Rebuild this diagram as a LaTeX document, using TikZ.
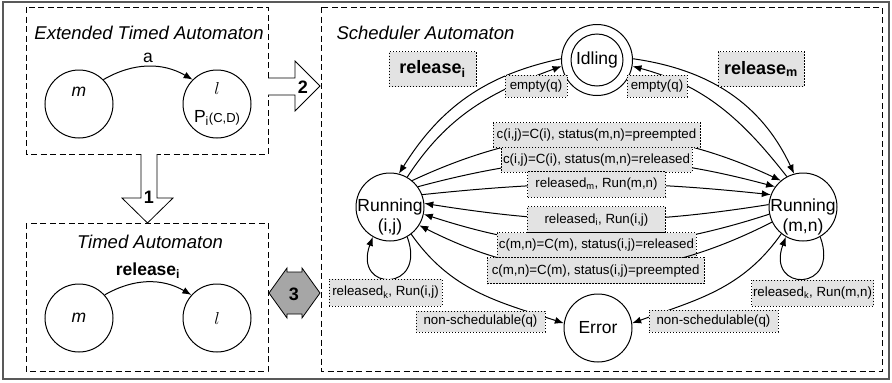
\documentclass[tikz,border=0pt]{standalone}
\usepackage{fontspec}
\setmainfont{Liberation Sans}
\usetikzlibrary{arrows.meta}

\tikzset{
  state/.style={draw, circle, line width=1pt, minimum size=68pt, inner sep=0pt},
  lbl/.style={draw, line width=0.9pt, dash pattern=on 1.4pt off 1.6pt, fill=black!11,
    font=\fontsize{13.3}{15}\selectfont, inner xsep=1.5pt, inner ysep=0pt},
  frame/.style={draw, line width=1pt, dash pattern=on 6pt off 3.5pt},
  arr/.style={line width=1pt, -{Latex[length=9pt,width=7pt]}},
  big/.style={font=\fontsize{17.5}{20}\selectfont},
  ttl/.style={font=\fontsize{18.5}{21}\selectfont\itshape},
  num/.style={font=\fontsize{18}{20}\selectfont\bfseries},
  blk/.style={draw, line width=0.8pt, line join=miter},
}

\begin{document}
\begin{tikzpicture}[x=1pt,y=1pt]
\useasboundingbox (0,0) rectangle (892,-383);
\draw[black!65, line width=1.4pt] (3,-2) rectangle (889,-379);

% the three parts
\draw[frame] (26,-7) rectangle (268,-154);
\draw[frame] (26,-223) rectangle (268,-371);
\draw[frame] (321,-7) rectangle (882,-371);
\node[ttl] (ettl) at (149,-33) {Extended Timed Automaton};
\node[ttl] (tttl) at (150,-242) {Timed Automaton};
\node[ttl, anchor=west] (sttl) at (333,-33) {Scheduler Automaton};

% extended timed automaton
\node[state] (em) at (79,-104) {};
\node[big] (emtxt) at (79,-92) {\textit{m}};
\node[state, big, align=center] (el) at (217,-104)
  {$l$\\[8pt]P\textsubscript{i}{\fontsize{13}{15}\selectfont(C,D)}};
\draw[arr] (em.45) to[out=30,in=150] node[above, big] (ea) {a} (el.135);

% timed automaton
\node[state, big] (tm) at (79,-318) {\textit{m}};
\node[state, big] (tl) at (217,-318) {$l$};
\draw[arr] (tm.42) to[out=30,in=150] node[above, big] (tr) {\textbf{release\textsubscript{i}}} (tl.138);

% block arrows 1, 2, 3
\draw[blk, fill=white] (141,-154) -- (141,-198) -- (122,-198) -- (147.5,-223)
  -- (173,-198) -- (157,-198) -- (157,-154);
\node[num] (one) at (149,-197) {1};
\draw[blk, fill=white] (268,-78) -- (295,-78) -- (295,-61) -- (320,-86)
  -- (295,-111) -- (295,-95) -- (268,-95);
\node[num] (two) at (303,-87) {2};
\draw[blk, fill=black!35] (269,-293) -- (287,-268) -- (287,-272) -- (302,-272)
  -- (302,-268) -- (320,-293) -- (302,-318) -- (302,-314) -- (287,-314)
  -- (287,-318) -- cycle;
\node[num] (three) at (294,-294) {3};

% scheduler automaton
\node[state, big, minimum size=71pt] (idle) at (597,-60) {Idling};
\draw[line width=1pt] (idle.center) circle[radius=26];
\node[state] (runij) at (390,-207) {};
\node[big, align=center] (runijtxt) at (390,-217) {Running\\(i,j)};
\node[state] (runmn) at (803,-207) {};
\node[big, align=center] (runmntxt) at (803,-217) {Running\\(m,n)};
\node[state, big] (err) at (598,-328) {Error};

\draw[arr] (idle.178) to[out=192,in=58] (runij.75);
\draw[arr] (runij.60) to[out=57,in=200] (idle.190);
\draw[arr] (idle.2) to[out=-8,in=115] (runmn.105);
\draw[arr] (runmn.118) to[out=128,in=-15] (idle.-10);

\draw[arr] (runij.50) to[out=25,in=155]
  node[lbl, minimum width=207, minimum height=25] {c(i,j)=C(i), status(m,n)=preempted} (runmn.130);
\draw[arr] (runij.36) to[out=15,in=165]
  node[lbl, minimum width=191, minimum height=25] {c(i,j)=C(i), status(m,n)=released} (runmn.144);
\draw[arr] (runij.21) to[out=6,in=174]
  node[lbl, minimum width=138, minimum height=26] {released\textsubscript{m}, Run(m,n)} (runmn.159);
\draw[arr] (runmn.176) to[out=189,in=-9]
  node[lbl, minimum width=138, minimum height=26] {released\textsubscript{i}, Run(i,j)} (runij.6);
\draw[arr] (runmn.192) to[out=198,in=-18]
  node[lbl, minimum width=199, minimum height=25] {c(m,n)=C(m), status(i,j)=released} (runij.-12);
\draw[arr] (runmn.206) to[out=207,in=-27]
  node[lbl, minimum width=217, minimum height=26] {c(m,n)=C(m), status(i,j)=preempted} (runij.-32);

\draw[arr] (runij.-60) to[out=-70,in=-110,looseness=4.4] (runij.-120);
\draw[arr] (runmn.-60) to[out=-70,in=-110,looseness=4.4] (runmn.-120);
\draw[arr] (runij.-52) to[out=-55,in=162] (err.172);
\draw[arr] (runmn.231) to[out=235,in=20] (err.8);

% free labels
\node[lbl, minimum width=87, minimum height=35, font=\fontsize{18}{20}\selectfont\bfseries]
  (reli) at (432.5,-69) {release\textsubscript{i}};
\node[lbl, minimum width=86, minimum height=35, font=\fontsize{18}{20}\selectfont\bfseries]
  (relm) at (761,-69) {release\textsubscript{m}};
\node[lbl, minimum width=62, minimum height=22] (empl) at (536,-86) {empty(q)};
\node[lbl, minimum width=60, minimum height=22] (empr) at (657,-86) {empty(q)};
\node[lbl, minimum width=113, minimum height=27] (relkij) at (385.5,-292.5) {released\textsubscript{k}, Run(i,j)};
\node[lbl, minimum width=121, minimum height=26] (relkmn) at (812.5,-293) {released\textsubscript{k}, Run(m,n)};
\node[lbl, minimum width=129, minimum height=21] (nsl) at (480.5,-321.5) {non-schedulable(q)};
\node[lbl, minimum width=129, minimum height=22] (nsr) at (713.5,-321) {non-schedulable(q)};
\end{tikzpicture}
\end{document}
